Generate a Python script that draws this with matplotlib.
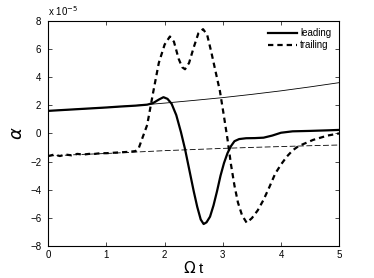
import numpy as np
import matplotlib
matplotlib.use("Agg")
import matplotlib.pyplot as plt

plt.rcParams['font.family'] = ['Liberation Sans', 'DejaVu Sans']

# values in units of 1e-5
lead_t = [0, 0.25, 0.5, 0.75, 1.0, 1.25, 1.5, 1.7, 1.8, 1.9, 1.98, 2.05, 2.12,
          2.2, 2.28, 2.35, 2.42, 2.5, 2.56, 2.62, 2.67, 2.72, 2.78, 2.84, 2.9,
          2.96, 3.02, 3.08, 3.14, 3.2, 3.28, 3.4, 3.55, 3.7, 3.85, 4.0, 4.2,
          4.5, 4.8, 5.0]
lead_a = [1.6, 1.66, 1.72, 1.78, 1.84, 1.91, 1.97, 2.04, 2.15, 2.4, 2.57, 2.45,
          2.1, 1.3, 0.1, -1.1, -2.5, -4.1, -5.2, -6.1, -6.42, -6.3, -5.9, -5.1,
          -4.1, -3.0, -2.1, -1.4, -0.9, -0.55, -0.4, -0.34, -0.33, -0.3, -0.15,
          0.05, 0.15, 0.18, 0.22, 0.25]

trail_t = [0, 0.1, 0.2, 0.3, 0.4, 0.5, 0.6, 0.7, 0.8, 0.9, 1.0, 1.2, 1.4, 1.5,
           1.55, 1.62, 1.7, 1.8, 1.9, 2.0, 2.09, 2.16, 2.24, 2.3, 2.35, 2.42,
           2.5, 2.58, 2.66, 2.73, 2.8, 2.88, 2.95, 3.02, 3.08, 3.14, 3.2, 3.26,
           3.33, 3.41, 3.5, 3.6, 3.7, 3.8, 3.9, 4.0, 4.1, 4.2, 4.3, 4.55, 4.8, 5.0]
trail_a = [-1.6, -1.5, -1.6, -1.5, -1.55, -1.45, -1.5, -1.45, -1.45, -1.4, -1.4,
           -1.35, -1.3, -1.25, -1.1, -0.3, 0.6, 2.85, 5.0, 6.3, 6.87, 6.5, 5.3,
           4.7, 4.55, 5.0, 6.1, 7.1, 7.39, 7.0, 5.8, 4.3, 3.0, 1.2, -0.4, -2.2,
           -3.7, -4.9, -5.8, -6.33, -6.0, -5.45, -4.7, -3.8, -2.85, -2.2, -1.64,
           -1.2, -0.9, -0.46, -0.15, 0.0]

# unperturbed reference curves
ref_t = [0, 0.5, 1.0, 1.5, 2.0, 2.5, 3.0, 3.5, 4.0, 4.5, 5.0]
ref_lead = [1.6, 1.72, 1.84, 1.98, 2.15, 2.34, 2.54, 2.77, 3.02, 3.3, 3.6]
ref_trail = [-1.6, -1.5, -1.42, -1.32, -1.22, -1.14, -1.06, -0.99, -0.93, -0.87, -0.82]

fig = plt.figure(figsize=(3.74, 2.78), dpi=100)
ax = fig.add_axes([0.129, 0.114, 0.778, 0.812])

ax.plot(ref_t, ref_lead, color='k', lw=0.6)
ax.plot(ref_t, ref_trail, color='k', lw=0.6, dashes=(7, 3))
ax.plot(lead_t, lead_a, color='k', lw=1.6, label='leading')
ax.plot(trail_t, trail_a, color='k', lw=1.6, dashes=(2.4, 1.8), label='trailing')

ax.set_xlim(0, 5)
ax.set_ylim(-8, 8)
ax.set_xticks([0, 1, 2, 3, 4, 5])
ax.set_yticks([-8, -6, -4, -2, 0, 2, 4, 6, 8])
ax.tick_params(direction='in', top=True, right=True, labelsize=7, length=3, width=0.5)
ax.tick_params(axis='y', pad=5)
ax.tick_params(axis='x', pad=3)
for s in ax.spines.values():
    s.set_linewidth(0.8)

ax.set_xlabel(r'$\Omega$ t', fontsize=11, labelpad=0)
ax.set_ylabel(r'$\alpha$', fontsize=13, labelpad=3)
ax.text(0.0, 1.01, r'x 10$^{-5}$', transform=ax.transAxes, fontsize=7, va='bottom')

ax.legend(loc='upper right', frameon=False, fontsize=7, handlelength=3,
          borderaxespad=0.4, labelspacing=0.2, handletextpad=0.3)

fig.savefig('out.png', dpi=100)
